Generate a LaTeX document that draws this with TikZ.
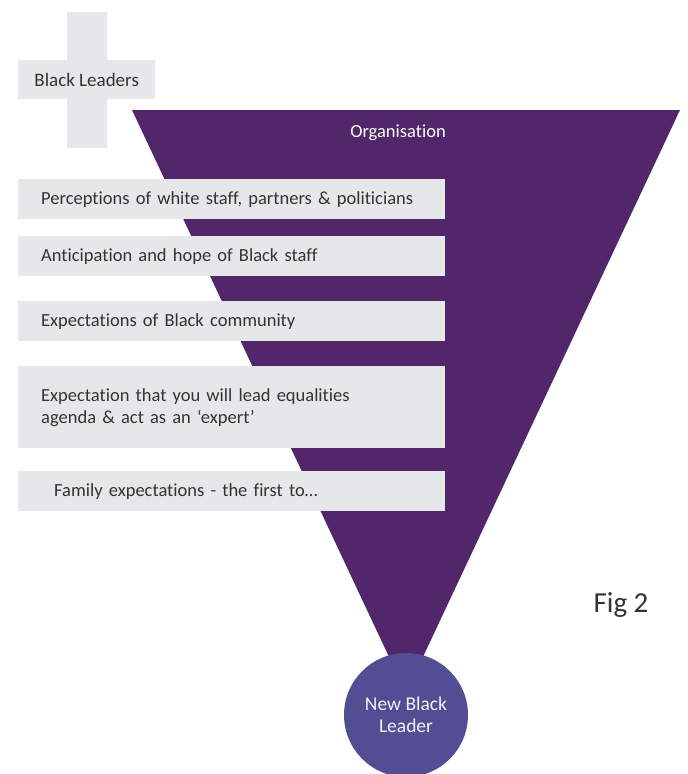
\documentclass[tikz,border=0pt]{standalone}
\usepackage{fontspec}
\setmainfont[Ligatures=NoCommon]{Carlito}
\usepackage{tikz}
\usepackage{xcolor}
\definecolor{funnelpurple}{HTML}{51266A}
\definecolor{leaderblue}{HTML}{534E94}
\definecolor{boxgrey}{HTML}{E6E7E9}
\definecolor{textgrey}{HTML}{333333}

\begin{document}
\begin{tikzpicture}[x=1pt,y=-1pt,
  greybox/.style={fill=boxgrey,anchor=north west,inner ysep=0pt,inner xsep=23pt,
    minimum width=427pt,text width=381pt,align=left,text=textgrey,
    font=\fontsize{18.5}{22}\selectfont}]
\useasboundingbox (0,0) rectangle (688,774);
% cross
\fill[boxgrey](67,12) rectangle (107,148);
\node[fill=boxgrey,anchor=north west,minimum width=137pt,minimum height=39pt,inner sep=0pt,
  text=textgrey,font=\fontsize{19}{22}\selectfont] (leaders) at (18,60) {Black Leaders};
% funnel
\fill[funnelpurple](132,110) -- (680,110) -- (406,693) -- cycle;
\node[text=white,font=\fontsize{18.5}{22}\selectfont] (org) at (398,133) {Organisation};
% pressures
\node[greybox,minimum height=40pt] (perceptions) at (18,179) {Perceptions of white staff, partners \& politicians};
\node[greybox,minimum height=40pt] (hope) at (18,236) {Anticipation and hope of Black staff};
\node[greybox,minimum height=40pt] (community) at (18,301) {Expectations of Black community};
\node[greybox,minimum height=82pt] (expert) at (18,366) {Expectation that you will lead equalities\\agenda \& act as an ‘expert’};
\node[greybox,minimum height=40pt,inner xsep=36pt,text width=355pt] (family) at (18,471) {Family expectations - the first to\dots};
% leader
\node[circle,fill=leaderblue,minimum size=124pt,inner sep=0pt,align=center,text=white!92!leaderblue,
  font=\fontsize{19.5}{22}\selectfont] (leader) at (406,715) {New Black\\Leader};
\node[text=textgrey,font=\fontsize{29}{32}\selectfont] (fig) at (621,605) {Fig 2};
\end{tikzpicture}
\end{document}
